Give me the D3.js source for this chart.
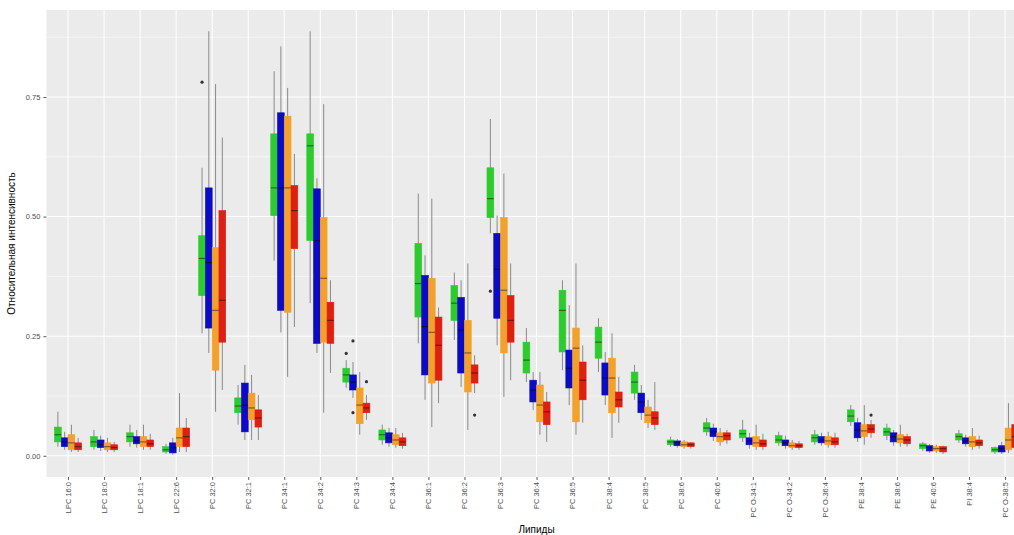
<!DOCTYPE html>
<html>
<head>
<meta charset="utf-8">
<script src="https://cdn.jsdelivr.net/npm/d3@7"></script>
<style>
  body { margin: 0; background: #fff; }
  svg { display: block; font-family: "Liberation Sans", Arial, sans-serif; }
</style>
</head>
<body>
<svg id="chart" width="1014" height="535"></svg>
<script>
// Lipid species on the x axis
const lipids = [
  "LPC 16:0", "LPC 18:0", "LPC 18:1", "LPC 22:6", "PC 32:0", "PC 32:1", "PC 34:1",
  "PC 34:2", "PC 34:3", "PC 34:4", "PC 36:1", "PC 36:2", "PC 36:3", "PC 36:4",
  "PC 36:5", "PC 38:4", "PC 38:5", "PC 38:6", "PC 40:6", "PC O-34:1", "PC O-34:2",
  "PC O-36:4", "PE 38:4", "PE 38:6", "PE 40:6", "PI 38:4", "PC O-38:5"
];

// Four sample groups, dodged within each lipid
const groups = ["g1", "g2", "g3", "g4"];
const groupColors = ["#2ecb2e", "#0b0bc6", "#f2a12c", "#dc2012"];

// Box statistics per lipid: [lower whisker, Q1, median, Q3, upper whisker]
const statsG1 = [
  [0.019, 0.029, 0.044, 0.060, 0.092], [0.0125, 0.019, 0.029, 0.040, 0.054],
  [0.019, 0.029, 0.040, 0.048, 0.065], [0.004, 0.008, 0.0125, 0.019, 0.025],
  [0.256, 0.335, 0.4125, 0.460, 0.602], [0.065, 0.090, 0.104, 0.121, 0.148],
  [0.408, 0.502, 0.560, 0.673, 0.804], [0.319, 0.450, 0.648, 0.673, 0.8875],
  [0.142, 0.154, 0.169, 0.183, 0.200], [0.023, 0.033, 0.044, 0.054, 0.065],
  [0.235, 0.290, 0.360, 0.444, 0.548], [0.242, 0.283, 0.319, 0.356, 0.383],
  [0.465, 0.498, 0.5375, 0.602, 0.704], [0.154, 0.173, 0.200, 0.2375, 0.267],
  [0.179, 0.217, 0.304, 0.346, 0.367], [0.175, 0.204, 0.2375, 0.269, 0.2875],
  [0.117, 0.131, 0.154, 0.175, 0.190], [0.019, 0.023, 0.029, 0.033, 0.040],
  [0.042, 0.050, 0.058, 0.069, 0.079], [0.029, 0.0375, 0.046, 0.054, 0.075],
  [0.021, 0.027, 0.033, 0.042, 0.050], [0.023, 0.029, 0.0375, 0.044, 0.054],
  [0.0625, 0.071, 0.083, 0.096, 0.106], [0.033, 0.042, 0.050, 0.058, 0.067],
  [0.010, 0.015, 0.021, 0.025, 0.029], [0.027, 0.033, 0.040, 0.046, 0.054],
  [0.004, 0.008, 0.0125, 0.017, 0.019]
];
const statsG2 = [
  [0.0125, 0.019, 0.029, 0.0375, 0.050], [0.010, 0.017, 0.023, 0.033, 0.042],
  [0.017, 0.025, 0.031, 0.040, 0.054], [0.002, 0.006, 0.017, 0.027, 0.0375],
  [0.215, 0.267, 0.404, 0.560, 0.8875], [0.033, 0.050, 0.106, 0.152, 0.190],
  [0.258, 0.304, 0.560, 0.717, 0.856], [0.215, 0.235, 0.450, 0.558, 0.580],
  [0.121, 0.1375, 0.154, 0.169, 0.196], [0.019, 0.027, 0.0375, 0.048, 0.058],
  [0.117, 0.169, 0.270, 0.377, 0.419], [0.144, 0.173, 0.263, 0.331, 0.367],
  [0.231, 0.2875, 0.390, 0.465, 0.502], [0.096, 0.1125, 0.1375, 0.158, 0.175],
  [0.106, 0.1417, 0.183, 0.221, 0.315], [0.106, 0.127, 0.1625, 0.194, 0.217],
  [0.075, 0.090, 0.1125, 0.131, 0.148], [0.017, 0.021, 0.027, 0.031, 0.035],
  [0.031, 0.040, 0.050, 0.058, 0.067], [0.015, 0.023, 0.031, 0.0375, 0.048],
  [0.015, 0.021, 0.027, 0.033, 0.042], [0.021, 0.027, 0.033, 0.040, 0.048],
  [0.029, 0.0375, 0.054, 0.069, 0.079], [0.021, 0.029, 0.040, 0.048, 0.054],
  [0.006, 0.010, 0.017, 0.021, 0.025], [0.019, 0.025, 0.031, 0.0375, 0.044],
  [0.004, 0.008, 0.015, 0.021, 0.029]
];
const statsG3 = [
  [0.008, 0.0125, 0.027, 0.044, 0.065], [0.008, 0.0125, 0.019, 0.027, 0.0375],
  [0.0125, 0.019, 0.029, 0.040, 0.065], [0.008, 0.019, 0.0375, 0.058, 0.131],
  [0.092, 0.179, 0.304, 0.435, 0.777], [0.033, 0.075, 0.100, 0.131, 0.169],
  [0.165, 0.300, 0.560, 0.710, 0.769], [0.090, 0.2375, 0.371, 0.498, 0.735],
  [0.044, 0.067, 0.106, 0.1417, 0.175], [0.017, 0.023, 0.033, 0.044, 0.058],
  [0.060, 0.152, 0.258, 0.371, 0.5375], [0.054, 0.1333, 0.215, 0.283, 0.402],
  [0.123, 0.215, 0.346, 0.498, 0.590], [0.044, 0.071, 0.106, 0.148, 0.175],
  [0.044, 0.071, 0.225, 0.267, 0.402], [0.0375, 0.090, 0.1625, 0.204, 0.256],
  [0.058, 0.069, 0.085, 0.102, 0.117], [0.015, 0.019, 0.023, 0.029, 0.033],
  [0.021, 0.029, 0.040, 0.048, 0.058], [0.0125, 0.019, 0.027, 0.040, 0.065],
  [0.0125, 0.017, 0.021, 0.027, 0.033], [0.017, 0.023, 0.031, 0.040, 0.050],
  [0.023, 0.040, 0.052, 0.065, 0.106], [0.019, 0.027, 0.035, 0.044, 0.065],
  [0.006, 0.010, 0.015, 0.019, 0.023], [0.0125, 0.019, 0.029, 0.040, 0.058],
  [0.006, 0.0125, 0.033, 0.058, 0.110]
];
const statsG4 = [
  [0.008, 0.0125, 0.019, 0.027, 0.0375], [0.008, 0.0125, 0.017, 0.023, 0.029],
  [0.0125, 0.019, 0.025, 0.033, 0.046], [0.008, 0.019, 0.040, 0.058, 0.079],
  [0.1375, 0.2375, 0.325, 0.5125, 0.665], [0.033, 0.060, 0.079, 0.096, 0.127],
  [0.269, 0.433, 0.5125, 0.565, 0.631], [0.173, 0.235, 0.283, 0.321, 0.367],
  [0.075, 0.090, 0.100, 0.110, 0.127], [0.015, 0.021, 0.029, 0.0375, 0.048],
  [0.110, 0.158, 0.231, 0.290, 0.310], [0.131, 0.152, 0.173, 0.190, 0.210],
  [0.158, 0.2375, 0.283, 0.335, 0.402], [0.029, 0.065, 0.092, 0.1125, 0.1333],
  [0.069, 0.117, 0.158, 0.196, 0.231], [0.069, 0.102, 0.117, 0.1333, 0.165],
  [0.054, 0.065, 0.079, 0.092, 0.154], [0.015, 0.019, 0.023, 0.027, 0.029],
  [0.025, 0.033, 0.042, 0.048, 0.054], [0.0125, 0.019, 0.025, 0.033, 0.046],
  [0.0125, 0.017, 0.021, 0.025, 0.031], [0.017, 0.023, 0.029, 0.0375, 0.048],
  [0.0375, 0.048, 0.056, 0.065, 0.075], [0.019, 0.025, 0.033, 0.040, 0.046],
  [0.004, 0.008, 0.015, 0.019, 0.021], [0.015, 0.021, 0.027, 0.033, 0.042],
  [0.008, 0.017, 0.040, 0.065, 0.085]
];
const statsByGroup = [statsG1, statsG2, statsG3, statsG4];

// Points beyond the whiskers
const outlierLipid = ["PC 32:0", "PC 34:3", "PC 34:3", "PC 34:3", "PC 34:3", "PC 36:2", "PC 36:3", "PE 38:4"];
const outlierGroup = ["g1", "g1", "g2", "g2", "g4", "g4", "g1", "g4"];
const outlierValue = [0.781, 0.214, 0.240, 0.090, 0.155, 0.085, 0.344, 0.085];

const yTicks = [0, 0.25, 0.5, 0.75];
const yMinorTicks = [0.125, 0.375, 0.625, 0.875];
const xTitle = "Липиды";
const yTitle = "Относительная интенсивность";

const svg = d3.select("#chart");
const panel = { left: 46.4, top: 10, right: 1026.7, bottom: 477 };

const x = d3.scalePoint().domain(lipids).range([panel.left, panel.right]).padding(0.6);
const dodge = d3.scaleBand().domain(groups).range([-0.375 * x.step(), 0.375 * x.step()]);

const yMax = d3.max(statsByGroup.flat(), d => d[4]);
const pad = yMax * 0.05;
const y = d3.scaleLinear().domain([-pad, yMax + pad]).range([panel.bottom, panel.top]);

// Panel background
svg.append("rect")
  .attr("x", panel.left).attr("y", panel.top)
  .attr("width", panel.right - panel.left).attr("height", panel.bottom - panel.top)
  .attr("fill", "#ebebeb");

// Grid lines
const grid = svg.append("g");
grid.selectAll(".minor").data(yMinorTicks).join("line")
  .attr("x1", panel.left).attr("x2", panel.right)
  .attr("y1", d => y(d)).attr("y2", d => y(d))
  .attr("stroke", "#fff").attr("stroke-width", 0.5);
grid.selectAll(".major").data(yTicks).join("line")
  .attr("x1", panel.left).attr("x2", panel.right)
  .attr("y1", d => y(d)).attr("y2", d => y(d))
  .attr("stroke", "#fff").attr("stroke-width", 1);
grid.selectAll(".vert").data(lipids).join("line")
  .attr("x1", d => x(d)).attr("x2", d => x(d))
  .attr("y1", panel.top).attr("y2", panel.bottom)
  .attr("stroke", "#fff").attr("stroke-width", 1);

// Boxplots
const boxes = [];
groups.forEach((g, gi) => {
  statsByGroup[gi].forEach((s, li) => {
    boxes.push({ lipid: lipids[li], group: g, color: groupColors[gi], s });
  });
});

const bw = dodge.bandwidth();
const boxG = svg.append("g");
const bx = boxG.selectAll("g").data(boxes).join("g")
  .attr("transform", d => `translate(${x(d.lipid) + dodge(d.group) + bw / 2},0)`);

bx.append("line")
  .attr("y1", d => y(d.s[4])).attr("y2", d => y(d.s[0]))
  .attr("stroke", "#8a8a8a").attr("stroke-width", 1);
bx.append("rect")
  .attr("x", -bw / 2).attr("width", bw)
  .attr("y", d => y(d.s[3]))
  .attr("height", d => Math.max(1, y(d.s[1]) - y(d.s[3])))
  .attr("fill", d => d.color)
  .attr("stroke", d => d.color).attr("stroke-width", 0.6);
bx.append("line")
  .attr("x1", -bw / 2).attr("x2", bw / 2)
  .attr("y1", d => y(d.s[2])).attr("y2", d => y(d.s[2]))
  .attr("stroke", "rgba(0,0,0,0.45)").attr("stroke-width", 1.2);

// Outliers
svg.append("g").selectAll("circle").data(outlierValue).join("circle")
  .attr("cx", (v, i) => x(outlierLipid[i]) + dodge(outlierGroup[i]) + bw / 2)
  .attr("cy", v => y(v))
  .attr("r", 1.6)
  .attr("fill", "#333");

// Axes
const yAxis = svg.append("g")
  .attr("transform", `translate(${panel.left},0)`)
  .call(d3.axisLeft(y).tickValues(yTicks).tickFormat(d3.format(".2f")).tickSize(3).tickPadding(3));
const xAxis = svg.append("g")
  .attr("transform", `translate(0,${panel.bottom})`)
  .call(d3.axisBottom(x).tickSize(3).tickPadding(2));

[yAxis, xAxis].forEach(a => {
  a.select(".domain").remove();
  a.selectAll(".tick line").attr("stroke", "#333").attr("stroke-width", 0.8);
  a.selectAll(".tick text").attr("fill", "#4d4d4d").style("font-size", "7.5px")
    .style("font-family", "'Liberation Sans', Arial, sans-serif");
});

xAxis.selectAll(".tick text")
  .attr("transform", "rotate(-90)")
  .attr("text-anchor", "end")
  .attr("x", -5).attr("y", 0).attr("dy", "0.32em");

// Axis titles
svg.append("text")
  .attr("x", (panel.left + panel.right) / 2).attr("y", 533)
  .attr("text-anchor", "middle").attr("fill", "#000")
  .style("font-size", "10px").text(xTitle);
svg.append("text")
  .attr("transform", `translate(15,${(panel.top + panel.bottom) / 2}) rotate(-90)`)
  .attr("text-anchor", "middle").attr("fill", "#000")
  .style("font-size", "10px").text(yTitle);
</script>
</body>
</html>
